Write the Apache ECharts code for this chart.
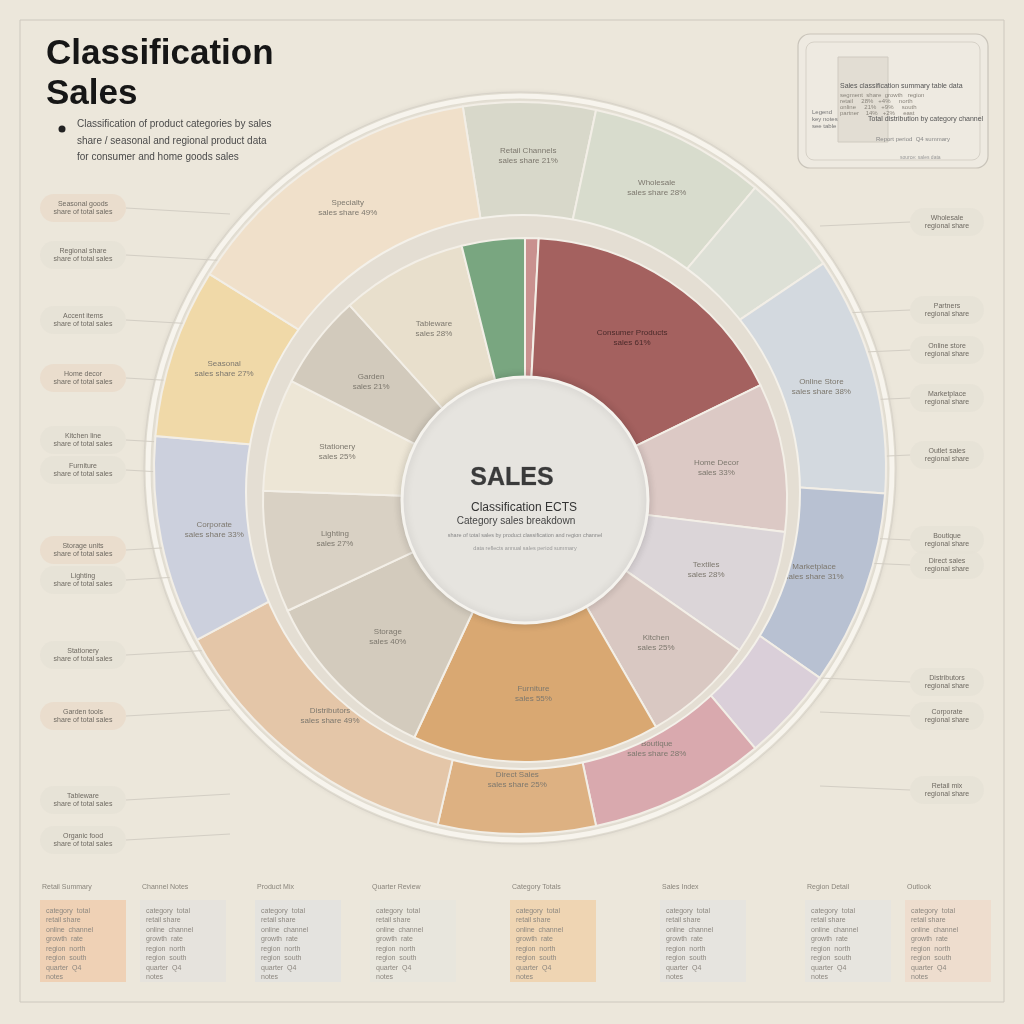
<!DOCTYPE html>
<html><head><meta charset="utf-8">
<script src="https://cdn.jsdelivr.net/npm/echarts@6/dist/echarts.min.js"></script>
<style>html,body{margin:0;padding:0;background:#ece7db}#c{width:1024px;height:1024px}</style>
</head><body><div id="c"></div>
<script>
const innerCategories = ['Accent', 'Consumer Products', 'Home Decor', 'Textiles', 'Kitchen', 'Furniture', 'Storage', 'Lighting', 'Stationery', 'Garden', 'Tableware', 'Organic'];
const innerValues = [3, 61, 33, 28, 25, 55, 40, 27, 25, 21, 28, 14];
const outerCategories = ['Retail Channels', 'Wholesale', 'Partners', 'Online Store', 'Marketplace', 'Outlet', 'Boutique', 'Direct Sales', 'Distributors', 'Corporate', 'Seasonal', 'Specialty'];
const outerValues = [21, 28, 16, 38, 31, 15, 28, 25, 49, 33, 27, 49];
const leftLabels = ['Seasonal goods', 'Regional share', 'Accent items', 'Home decor', 'Kitchen line', 'Furniture', 'Storage units', 'Lighting', 'Stationery', 'Garden tools', 'Tableware', 'Organic food'];
const rightLabels = ['Wholesale', 'Partners', 'Online store', 'Marketplace', 'Outlet sales', 'Boutique', 'Direct sales', 'Distributors', 'Corporate', 'Retail mix'];
const cardTitles = ['Retail Summary', 'Channel Notes', 'Product Mix', 'Quarter Review', 'Category Totals', 'Sales Index', 'Region Detail', 'Outlook'];

const innerPalette = ['#c9918f', '#a4615f', '#dcc9c5', '#dbd5d8', '#d9c8c2', '#d9a872', '#d3cbbd', '#d9d1c4', '#ede6d6', '#d2cabc', '#e8dfcc', '#79a680'];
const outerPalette = ['#d8d8ca', '#d8dccd', '#dde0d6', '#d3d9df', '#b8c1d2', '#dacfd9', '#d9a9ae', '#ddb182', '#e4c6a8', '#ccd0dd', '#f0d9a8', '#f0e0ca'];

const chart = echarts.init(document.getElementById('c'));
const labelStyle = {show: true, position: 'inside', fontSize: 8, color: '#7d786e', fontFamily: 'Liberation Sans'};

function pieData(names, values, palette, darkIdx) {
  return names.map((n, i) => ({
    name: n, value: values[i],
    itemStyle: {color: palette[i]},
    label: values[i] >= 20 ? {show: true, color: i === darkIdx ? '#4a2a2a' : '#7d786e'} : {show: false}
  }));
}

const graphics = [];
graphics.push({type: 'rect', z: -10, shape: {x: 20, y: 20, width: 984, height: 982}, style: {fill: 'none', stroke: '#cdc8be', lineWidth: 1}});
graphics.push({type: 'text', z: 50, x: 46, y: 34, style: {text: 'Classification\nSales', font: 'bold 35px "Liberation Sans", Arial', fill: '#161616', lineHeight: 40}});
graphics.push({type: 'circle', z: 50, shape: {cx: 62, cy: 129, r: 3.5}, style: {fill: '#222'}});
graphics.push({type: 'text', z: 50, x: 77, y: 116, style: {text: 'Classification of product categories by sales\nshare / seasonal and regional product data\nfor consumer and home goods sales', font: '10px "Liberation Sans"', fill: '#4a4a4a', lineHeight: 16.5}});
graphics.push({type: 'rect', z: 5, shape: {x: 798, y: 34, width: 190, height: 134, r: 12}, style: {fill: '#eeeae1', stroke: '#c9c4ba', lineWidth: 1.2}});
graphics.push({type: 'rect', z: 5, shape: {x: 806, y: 42, width: 174, height: 118, r: 8}, style: {fill: 'none', stroke: '#d6d1c7', lineWidth: 1}});
graphics.push({type: 'rect', z: 6, shape: {x: 838, y: 57, width: 50, height: 85}, style: {fill: '#e2ddd3', stroke: '#cfcac0'}});
graphics.push({type: 'text', z: 7, x: 840, y: 82, style: {text: 'Sales classification summary table data', font: '7px "Liberation Sans"', fill: '#555', lineHeight: 8}});
graphics.push({type: 'text', z: 7, x: 840, y: 92, style: {text: 'segment  share  growth   region\nretail     28%   +4%     north\nonline     21%   +9%     south\npartner    14%   +2%     east', font: '6px "Liberation Sans"', fill: '#8a857c', lineHeight: 6}});
graphics.push({type: 'text', z: 7, x: 868, y: 116, style: {text: 'Total distribution by category channel', font: '7px "Liberation Sans"', fill: '#555'}});
graphics.push({type: 'text', z: 7, x: 876, y: 136, style: {text: 'Report period  Q4 summary', font: '6px "Liberation Sans"', fill: '#888'}});
graphics.push({type: 'text', z: 7, x: 812, y: 109, style: {text: 'Legend\nkey notes\nsee table', font: '6px "Liberation Sans"', fill: '#777', lineHeight: 7}});
graphics.push({type: 'text', z: 7, x: 900, y: 155, style: {text: 'source: sales data', font: '5px "Liberation Sans"', fill: '#999'}});

const leftY = [208, 255, 320, 378, 440, 470, 550, 580, 655, 716, 800, 840];
leftLabels.forEach((t, i) => {
  const y = leftY[i];
  graphics.push({type: 'rect', z: 3, shape: {x: 40, y: y - 14, width: 86, height: 28, r: 14}, style: {fill: i % 3 === 0 ? '#ead9c8' : '#e6e1d6', opacity: 0.7}});
  graphics.push({type: 'text', z: 4, x: 83, y: y - 8, style: {text: t + '\nshare of total sales', align: 'center', font: '7px "Liberation Sans"', fill: '#6f6a62', lineHeight: 8}});
  graphics.push({type: 'line', z: 2, shape: {x1: 126, y1: y, x2: 230, y2: y + (i < 6 ? 6 : -6)}, style: {stroke: '#d3cec4', lineWidth: 1}});
});
const rightY = [222, 310, 350, 398, 455, 540, 565, 682, 716, 790, 815];
rightLabels.forEach((t, i) => {
  const y = rightY[i];
  graphics.push({type: 'rect', z: 3, shape: {x: 910, y: y - 14, width: 74, height: 28, r: 14}, style: {fill: '#e6e1d6', opacity: 0.7}});
  graphics.push({type: 'text', z: 4, x: 947, y: y - 8, style: {text: t + '\nregional share', align: 'center', font: '7px "Liberation Sans"', fill: '#6f6a62', lineHeight: 8}});
  graphics.push({type: 'line', z: 2, shape: {x1: 820, y1: y + (i < 5 ? 4 : -4), x2: 910, y2: y}, style: {stroke: '#d3cec4', lineWidth: 1}});
});
const cardX = [40, 140, 255, 370, 510, 660, 805, 905];
const cardTint = ['#f0c9a8', '#e4e2dd', '#e2e2e0', '#e7e5de', '#f0cfa6', '#e4e3e0', '#e6e4e0', '#efd9c9'];
cardTitles.forEach((t, i) => {
  const x = cardX[i];
  graphics.push({type: 'rect', z: 3, shape: {x: x, y: 900, width: 86, height: 82}, style: {fill: cardTint[i], opacity: 0.75}});
  graphics.push({type: 'text', z: 4, x: x + 2, y: 884, style: {text: t, font: '7px "Liberation Sans"', fill: '#8a857c'}});
  graphics.push({type: 'text', z: 4, x: x + 6, y: 906, style: {text: 'category  total\nretail share\nonline  channel\ngrowth  rate\nregion  north\nregion  south\nquarter  Q4\nnotes', font: '7px "Liberation Sans"', fill: '#8d8880', lineHeight: 9.5}});
});
graphics.push({type: 'text', z: 100, x: 512, y: 466, style: {text: 'SALES', align: 'center', font: 'bold 25px "Liberation Sans"', fill: '#3a3a3a', stroke: '#9a9a9a', lineWidth: 0.5}});
graphics.push({type: 'text', z: 100, x: 524, y: 502, style: {text: 'Classification ECTS', align: 'center', font: '12px "Liberation Sans"', fill: '#333'}});
graphics.push({type: 'text', z: 100, x: 516, y: 516, style: {text: 'Category sales breakdown', align: 'center', font: '10px "Liberation Sans"', fill: '#444'}});
graphics.push({type: 'text', z: 100, x: 525, y: 532, style: {text: 'share of total sales by product classification and region channel', align: 'center', font: '5.5px "Liberation Sans"', fill: '#888'}});
graphics.push({type: 'text', z: 100, x: 525, y: 545, style: {text: 'data reflects annual sales period summary', align: 'center', font: '5.5px "Liberation Sans"', fill: '#999'}});
graphics.push({type: 'circle', z: 1, shape: {cx: 520, cy: 468, r: 372}, style: {fill: 'none', stroke: '#f7f4ed', lineWidth: 5, shadowBlur: 6, shadowColor: 'rgba(0,0,0,0.12)'}});
graphics.push({type: 'circle', z: 1, shape: {cx: 520, cy: 468, r: 376}, style: {fill: 'none', stroke: '#d8d3c9', lineWidth: 1}});

chart.setOption({
  backgroundColor: '#ece7db',
  animation: false,
  graphic: graphics,
  series: [
    {
      type: 'pie', z: 2, center: [520, 468], radius: [252, 366], startAngle: 99, clockwise: true,
      silent: true, avoidLabelOverlap: false, minAngle: 0,
      itemStyle: {borderColor: '#f2eee6', borderWidth: 2},
      label: Object.assign({}, labelStyle, {formatter: p => p.name + '\nsales share ' + p.value + '%', lineHeight: 10}),
      labelLine: {show: false},
      data: pieData(outerCategories, outerValues, outerPalette, -1)
    },
    {
      type: 'pie', z: 3, center: [523, 492], radius: [0, 277], silent: true,
      itemStyle: {color: '#e4ded3', borderColor: '#f4f1ea', borderWidth: 2},
      label: {show: false}, labelLine: {show: false},
      data: [{name: 'band', value: 1}]
    },
    {
      type: 'pie', z: 4, center: [525, 500], radius: [120, 262], startAngle: 90, clockwise: true,
      silent: true, avoidLabelOverlap: false,
      itemStyle: {borderColor: '#f3efe7', borderWidth: 2},
      label: Object.assign({}, labelStyle, {formatter: p => p.name + '\nsales ' + p.value + '%', lineHeight: 10}),
      labelLine: {show: false},
      data: pieData(innerCategories, innerValues, innerPalette, 1)
    },
    {
      type: 'pie', z: 5, center: [525, 500], radius: [0, 123], silent: true,
      itemStyle: {color: '#e6e4df', borderColor: '#f5f3ee', borderWidth: 3, shadowBlur: 8, shadowColor: 'rgba(0,0,0,0.15)'},
      label: {show: false}, labelLine: {show: false},
      data: [{name: 'center', value: 1}]
    }
  ]
});
</script></body></html>
